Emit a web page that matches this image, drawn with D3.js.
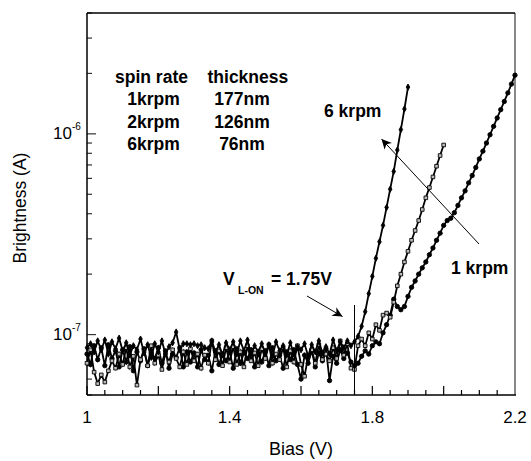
<!DOCTYPE html>
<html>
<head>
<meta charset="utf-8">
<script src="https://cdn.jsdelivr.net/npm/d3@7"></script>
<style>
  body { margin: 0; background: #fff; }
  svg { display: block; font-family: "Liberation Sans", Arial, sans-serif; }
</style>
</head>
<body>
<svg id="chart" width="531" height="461"></svg>
<script>
// bias grid: 10 mV steps starting at 1.00 V
var biasStart = 1.0, biasStep = 0.01;

// brightness readings, in units of 1e-8 A
var krpm6 = [
  8.6, 9.0, 8.2, 9.3, 8.4, 9.4, 8.0, 9.2, 8.5, 9.6,
  8.3, 9.1, 7.9, 8.8, 8.4, 9.5, 8.1, 8.9, 7.7, 9.0,
  8.2, 9.3, 8.0, 8.7, 9.1, 10.3, 8.4, 9.0, 9.0, 8.9,
  9.0, 8.8, 8.9, 8.6, 8.5, 9.3, 8.2, 8.9, 7.9, 9.1,
  8.4, 9.2, 8.0, 9.3, 8.3, 9.4, 7.9, 8.8, 8.2, 9.0,
  8.1, 8.9, 7.8, 9.2, 8.3, 8.8, 7.9, 9.1, 8.0, 8.7,
  8.4, 9.0, 7.8, 8.9, 8.2, 9.3, 8.1, 8.7, 8.0, 9.4,
  8.3, 9.2, 8.6, 9.3, 8.8, 9.2,
  9.8, 11, 13, 16, 19.5, 24, 29, 35, 43, 53, 65, 83, 105, 133, 171
];
var krpm2 = [
  7.2, 8.4, 6.5, 5.7, 6.3, 5.8, 6.6, 7.4, 6.8, 8.0,
  7.1, 8.6, 6.9, 7.8, 5.6, 7.5, 8.3, 7.0, 8.8, 7.2,
  7.9, 6.7, 8.1, 7.3, 8.4, 7.6, 6.9, 8.2, 7.1, 8.5,
  7.4, 8.0, 6.8, 7.9, 7.2, 9.3, 7.5, 8.3, 7.0, 8.6,
  7.3, 8.7, 7.1, 8.2, 6.9, 8.8, 7.4, 8.1, 7.0, 8.5,
  7.6, 8.9, 7.2, 8.0, 7.5, 8.6, 6.9, 8.3, 7.3, 8.8,
  7.1, 6.2, 7.8, 8.4, 7.2, 8.9, 7.5, 8.0, 7.4, 8.6,
  7.6, 9.3, 7.9, 9.0, 6.8, 6.7,
  8.8, 9.5, 8.8, 10.2, 9.5, 11.2, 10.5, 12.5, 12.8, 12.2,
  14.5, 17.5, 20, 23, 26, 29.5, 33, 37, 42, 48, 54, 61, 69, 78, 88
];
var krpm1 = [
  8.0, 7.1, 8.8, 7.5, 8.6, 7.0, 8.9, 7.6, 8.3, 6.9,
  8.4, 7.3, 8.7, 6.6, 8.2, 7.4, 8.5, 7.0, 8.1, 7.6,
  8.6, 7.2, 8.3, 6.8, 8.0, 7.7, 8.6, 6.9, 8.2, 7.3,
  8.1, 6.9, 8.4, 7.5, 7.9, 6.6, 8.3, 7.1, 8.0, 7.4,
  8.2, 6.8, 8.5, 7.2, 8.1, 7.6, 8.4, 6.9, 8.0, 7.3,
  8.3, 7.0, 8.6, 7.4, 7.9, 6.8, 8.2, 7.5, 8.4, 7.1,
  6.0, 7.9, 7.2, 8.3, 6.9, 8.1, 7.4, 8.5, 5.9, 7.8,
  7.2, 8.4, 7.6, 8.1, 7.3, 7.0,
  7.2, 7.8, 8.3, 8.0, 8.8, 9.2, 9.0, 10.2, 11.2, 12.5,
  15, 13.8, 13.3, 13.8, 15.5, 17.2, 18.5, 20, 21.5, 23,
  25, 27, 29.5, 32, 35, 37, 38, 40.5, 44, 48,
  52, 57, 62, 68, 75, 82, 90, 99, 109, 120,
  132, 145, 160, 177, 196
];
var unit = 1e-8;

var xTickLabels = [1, 1.4, 1.8, 2.2];
var yTickLabels = [{v: 1e-7, exp: "-7"}, {v: 1e-6, exp: "-6"}];

var svg = d3.select("#chart");
var plotL = 87, plotR = 515, plotT = 13, plotB = 395;

var x = d3.scaleLinear().domain([1, 2.2]).range([plotL, plotR]);
var y = d3.scaleLog().domain([5e-8, 4e-6]).range([plotB, plotT]);

function toPoints(arr) {
  return arr.map(function(v, i) {
    return { b: biasStart + i * biasStep, v: v * unit };
  });
}

// bottom ticks (inside)
var xMinor = d3.range(0, 25).map(function(i){ return 1 + i * 0.05; });
svg.append("g").selectAll("line")
  .data(xMinor)
  .enter().append("line")
    .attr("x1", function(d){ return x(d); })
    .attr("x2", function(d){ return x(d); })
    .attr("y1", plotB)
    .attr("y2", function(d, i){ return i % 4 === 0 ? plotB - 9 : plotB - 5; })
    .attr("stroke", "#000")
    .attr("stroke-width", 1.2);

// left ticks (inside), log decades
var yTicks = y.ticks();
svg.append("g").selectAll("line")
  .data(yTicks)
  .enter().append("line")
    .attr("y1", function(d){ return y(d); })
    .attr("y2", function(d){ return y(d); })
    .attr("x1", plotL)
    .attr("x2", function(d){
      var m = d / Math.pow(10, Math.floor(Math.log10(d) + 1e-9));
      return Math.abs(m - 1) < 1e-6 ? plotL + 9 : plotL + 5;
    })
    .attr("stroke", "#333")
    .attr("stroke-width", 1.2);

// frame
svg.append("line").attr("x1", plotR).attr("x2", plotR).attr("y1", plotT).attr("y2", plotB)
  .attr("stroke", "#888").attr("stroke-width", 2);
svg.append("line").attr("x1", plotL).attr("x2", plotR).attr("y1", plotT).attr("y2", plotT)
  .attr("stroke", "#000").attr("stroke-width", 1.5);
svg.append("line").attr("x1", plotL).attr("x2", plotL).attr("y1", plotT).attr("y2", plotB)
  .attr("stroke", "#000").attr("stroke-width", 1.5);
svg.append("line").attr("x1", plotL).attr("x2", plotR + 1).attr("y1", plotB).attr("y2", plotB)
  .attr("stroke", "#000").attr("stroke-width", 1.5);

// tick labels
svg.append("g").selectAll("text")
  .data(xTickLabels)
  .enter().append("text")
    .attr("x", function(d){ return x(d); })
    .attr("y", 423)
    .attr("text-anchor", "middle")
    .attr("font-size", "17px")
    .text(function(d){ return d; });

var yl = svg.append("g").selectAll("g")
  .data(yTickLabels)
  .enter().append("g");
yl.append("text")
  .attr("x", 72)
  .attr("y", function(d){ return y(d.v) + 5; })
  .attr("text-anchor", "end")
  .attr("font-size", "17px")
  .text("10");
yl.append("text")
  .attr("x", 72)
  .attr("y", function(d){ return y(d.v) - 4; })
  .attr("font-size", "10px")
  .text(function(d){ return d.exp; });

// axis titles
svg.append("text")
  .attr("x", 301).attr("y", 455)
  .attr("text-anchor", "middle")
  .attr("font-size", "18px")
  .text("Bias (V)");
svg.append("text")
  .attr("transform", "translate(26,208) rotate(-90)")
  .attr("text-anchor", "middle")
  .attr("font-size", "17.5px")
  .text("Brightness (A)");

// series
var line = d3.line()
  .x(function(d){ return x(d.b); })
  .y(function(d){ return y(d.v); });

var series = [
  { data: toPoints(krpm1), sym: d3.symbolCircle, size: 15, fill: "#000" },
  { data: toPoints(krpm2), sym: d3.symbolSquare, size: 13, fill: "#bbb" },
  { data: toPoints(krpm6), sym: d3.symbolDiamond, size: 11, fill: "#000" }
];

series.forEach(function(s) {
  svg.append("path")
    .datum(s.data)
    .attr("d", line)
    .attr("fill", "none")
    .attr("stroke", "#000")
    .attr("stroke-width", 1.8);
  svg.append("g").selectAll("path")
    .data(s.data)
    .enter().append("path")
      .attr("transform", function(d){ return "translate(" + x(d.b) + "," + y(d.v) + ")"; })
      .attr("d", d3.symbol().type(s.sym).size(s.size))
      .attr("fill", s.fill)
      .attr("stroke", "#000")
      .attr("stroke-width", 0.9);
});

// annotations
svg.append("defs").append("marker")
  .attr("id", "arrow")
  .attr("viewBox", "0 0 10 10")
  .attr("refX", 10).attr("refY", 5)
  .attr("markerWidth", 12).attr("markerHeight", 10)
  .attr("markerUnits", "userSpaceOnUse")
  .attr("orient", "auto")
  .append("path")
    .attr("d", "M0,0 L10,5 L0,10 L3,5 Z")
    .attr("fill", "#000");

svg.append("line")
  .attr("x1", 479).attr("y1", 244).attr("x2", 381.5).attr("y2", 139)
  .attr("stroke", "#000").attr("stroke-width", 1)
  .attr("marker-end", "url(#arrow)");
svg.append("line")
  .attr("x1", 307).attr("y1", 296).attr("x2", 342.5).attr("y2", 316.5)
  .attr("stroke", "#000").attr("stroke-width", 1)
  .attr("marker-end", "url(#arrow)");
svg.append("line")
  .attr("x1", x(1.75)).attr("x2", x(1.75)).attr("y1", 305).attr("y2", plotB)
  .attr("stroke", "#000").attr("stroke-width", 1);

function btext(tx, ty, str, anchor) {
  return svg.append("text")
    .attr("x", tx).attr("y", ty)
    .attr("text-anchor", anchor || "start")
    .attr("font-weight", "bold")
    .attr("font-size", "17.5px")
    .text(str);
}

btext(115, 83, "spin rate");
btext(207.5, 83, "thickness");
var spinRates = ["1krpm", "2krpm", "6krpm"];
var thickness = ["177nm", "126nm", "76nm"];
var rowY = [105, 127.5, 150];
spinRates.forEach(function(s, i){ btext(153.5, rowY[i], s, "middle"); });
thickness.forEach(function(s, i){ btext(242, rowY[i], s, "middle"); });

btext(324, 117, "6 krpm");
btext(451, 274, "1 krpm");

btext(223, 285, "V");
svg.append("text")
  .attr("x", 238).attr("y", 293.5)
  .attr("font-weight", "bold")
  .attr("font-size", "10.5px")
  .text("L-ON");
btext(271, 285, "= 1.75V");
</script>
</body>
</html>
